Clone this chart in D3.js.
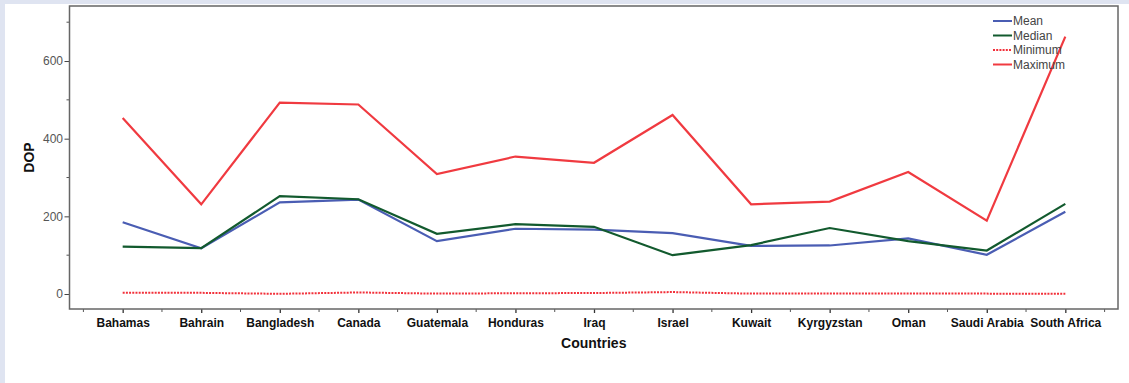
<!DOCTYPE html>
<html><head><meta charset="utf-8">
<script src="https://cdn.jsdelivr.net/npm/d3@7/dist/d3.min.js"></script>
<style>body{margin:0;background:#dfe4f1;} svg{display:block;}</style>
</head><body>
<svg id="c" width="1129" height="383"></svg>
<script>
const categories = ["Bahamas","Bahrain","Bangladesh","Canada","Guatemala","Honduras","Iraq","Israel","Kuwait","Kyrgyzstan","Oman","Saudi Arabia","South Africa"];
const meanVals   = [185, 118, 236, 243, 136, 168, 166, 157, 124, 125, 143, 101, 212];
const medianVals = [122, 118, 252, 244, 155, 180, 173, 100, 126, 170, 136, 112, 232];
const minVals    = [3, 3, 0.5, 4, 1, 2, 2.5, 5, 1, 1, 1, 1, 0.5];
const maxVals    = [453, 231, 493, 488, 309, 354, 338, 461, 231, 238, 314, 189, 663];
const yTicks = [0, 200, 400, 600];
const yMinor = [100, 300, 500, 700];
const seriesNames = ["Mean","Median","Minimum","Maximum"];

const series = [
  {name: seriesNames[0], values: meanVals, color: "#4a5db3", dash: null},
  {name: seriesNames[1], values: medianVals, color: "#125a2e", dash: null},
  {name: seriesNames[2], values: minVals, color: "#f2303a", dash: "2,1.2"},
  {name: seriesNames[3], values: maxVals, color: "#f03a40", dash: null}
];

const svg = d3.select("#c");
svg.append("rect").attr("x",5).attr("y",4).attr("width",1124).attr("height",379).attr("fill","#fff");

const L = 69.5, R = 1118, T = 6, B = 309;
const x = d3.scaleBand().domain(categories).range([83.4, 1104.6]).padding(0);
const y = d3.scaleLinear().domain([-38.6, 741.7]).range([B, T]);
const cx = d => x(d) + x.bandwidth()/2;

// minor x ticks at band edges
const edges = categories.map(c => x(c)).concat([x(categories[categories.length-1]) + x.bandwidth()]);
svg.append("g").selectAll("line").data(edges).join("line")
  .attr("x1", d=>d).attr("x2", d=>d).attr("y1", B).attr("y2", B+3)
  .attr("stroke","#555").attr("stroke-width",1);

const xAxis = d3.axisBottom(d3.scalePoint().domain(categories).range([cx(categories[0]), cx(categories[categories.length-1])]))
  .tickSize(4).tickSizeOuter(0);
const gx = svg.append("g").attr("transform",`translate(0,${B})`).call(xAxis);
gx.select(".domain").remove();
gx.selectAll(".tick line").attr("stroke","#333").attr("stroke-width",1.3);
gx.selectAll(".tick text").attr("font-family","Liberation Sans, Arial, sans-serif")
  .attr("font-size",12).attr("font-weight","bold").attr("fill","#111").attr("dy","0.95em");

// y axis
const gy = svg.append("g").attr("transform",`translate(${L},0)`)
  .call(d3.axisLeft(y).tickValues(yTicks).tickSize(5).tickSizeOuter(0));
gy.select(".domain").remove();
gy.selectAll(".tick line").attr("stroke","#444").attr("stroke-width",1);
gy.selectAll(".tick text").attr("font-family","Liberation Sans, Arial, sans-serif")
  .attr("font-size",12).attr("fill","#555").attr("x",-6.5);
svg.append("g").selectAll("line").data(yMinor).join("line")
  .attr("x1", L-3).attr("x2", L).attr("y1", d=>y(d)).attr("y2", d=>y(d))
  .attr("stroke","#555").attr("stroke-width",1);

// frame
svg.append("rect").attr("x",L).attr("y",T).attr("width",R-L).attr("height",B-T)
  .attr("fill","none").attr("stroke","#666").attr("stroke-width",1.5);

// lines
const line = d3.line().x((d,i)=>cx(categories[i])).y(d=>y(d));
series.forEach(s => {
  svg.append("path").datum(s.values).attr("d", line)
    .attr("fill","none").attr("stroke", s.color).attr("stroke-width", s.dash ? 2 : 2.2)
    .attr("stroke-dasharray", s.dash).attr("stroke-linejoin","miter");
});

// legend
const lg = svg.append("g").attr("transform","translate(993,21)");
series.forEach((s,i) => {
  const g = lg.append("g").attr("transform",`translate(0,${i*14.5})`);
  g.append("line").attr("x1",0).attr("x2",19).attr("y1",0).attr("y2",0)
    .attr("stroke", s.color).attr("stroke-width",2).attr("stroke-dasharray", s.dash);
  g.append("text").attr("x",20).attr("y",0).attr("dy","0.35em")
    .attr("font-family","Liberation Sans, Arial, sans-serif").attr("font-size",12)
    .attr("fill","#444").text(s.name);
});

// axis titles
svg.append("text").attr("transform",`translate(34,${(T+B)/2}) rotate(-90)`)
  .attr("text-anchor","middle").attr("font-family","Liberation Sans, Arial, sans-serif")
  .attr("font-size",14).attr("font-weight","bold").attr("fill","#111").text("DOP");
svg.append("text").attr("x",(L+R)/2).attr("y",348).attr("text-anchor","middle")
  .attr("font-family","Liberation Sans, Arial, sans-serif")
  .attr("font-size",14).attr("font-weight","bold").attr("fill","#111").text("Countries");
</script>
</body></html>
